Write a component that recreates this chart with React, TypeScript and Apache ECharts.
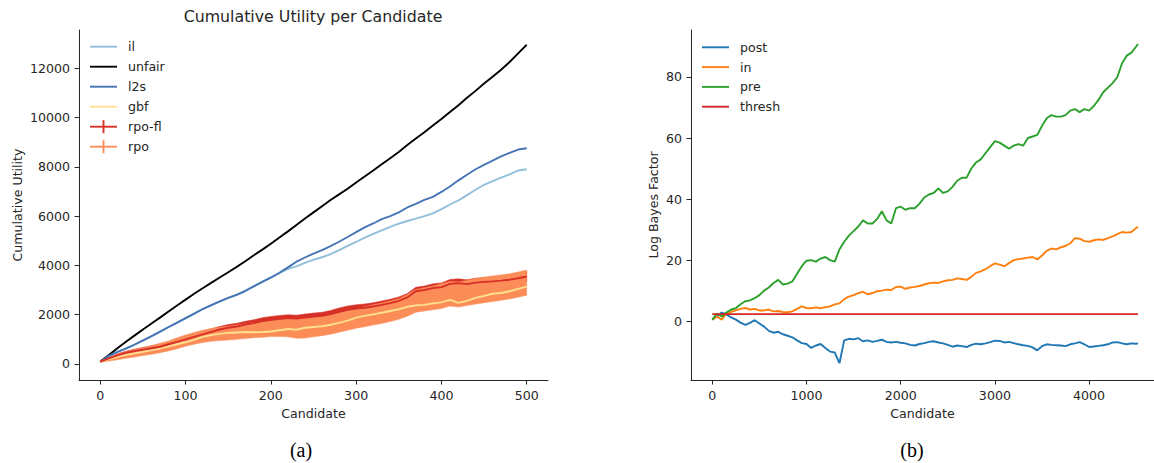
import React, { useEffect, useRef } from "react";
import * as echarts from "echarts";

// ---------- Left panel (a) data ----------
const leftX = [0, 10, 20, 30, 40, 50, 60, 70, 80, 90, 100, 110, 120, 130, 140, 150, 160, 170, 180, 190, 200, 210, 220, 230, 240, 250, 260, 270, 280, 290, 300, 310, 320, 330, 340, 350, 360, 370, 380, 390, 400, 410, 420, 430, 440, 450, 460, 470, 480, 490, 500];
const ilVals = [100, 320, 480, 630, 790, 950, 1120, 1300, 1490, 1670, 1850, 2030, 2220, 2380, 2530, 2680, 2810, 2980, 3160, 3340, 3520, 3680, 3860, 3960, 4100, 4230, 4330, 4460, 4620, 4790, 4950, 5130, 5280, 5420, 5560, 5690, 5800, 5900, 6000, 6110, 6280, 6470, 6640, 6850, 7070, 7270, 7420, 7560, 7690, 7850, 7900];
const unfairVals = [100, 360, 640, 900, 1150, 1400, 1640, 1880, 2130, 2370, 2610, 2850, 3070, 3290, 3510, 3720, 3940, 4170, 4410, 4640, 4880, 5130, 5380, 5640, 5900, 6150, 6400, 6650, 6880, 7110, 7360, 7610, 7850, 8100, 8350, 8600, 8880, 9150, 9400, 9680, 9940, 10220, 10500, 10800, 11080, 11380, 11650, 11940, 12250, 12600, 12950];
const l2sVals = [100, 330, 490, 620, 780, 960, 1130, 1310, 1500, 1680, 1860, 2040, 2230, 2390, 2540, 2680, 2800, 2960, 3150, 3330, 3500, 3700, 3920, 4150, 4320, 4480, 4620, 4780, 4960, 5150, 5350, 5540, 5700, 5880, 6000, 6150, 6350, 6500, 6660, 6780, 6980, 7200, 7450, 7680, 7900, 8080, 8250, 8420, 8560, 8700, 8750];
const gbfVals = [100, 200, 290, 370, 430, 490, 560, 630, 720, 800, 880, 980, 1100, 1170, 1220, 1260, 1280, 1300, 1290, 1300, 1320, 1370, 1420, 1390, 1470, 1500, 1530, 1590, 1670, 1760, 1880, 1950, 2010, 2080, 2150, 2220, 2320, 2380, 2400, 2460, 2500, 2600, 2480, 2560, 2680, 2760, 2850, 2880, 2950, 3050, 3140];
const rpoFlVals = [100, 230, 350, 450, 520, 580, 640, 700, 800, 900, 1000, 1100, 1200, 1300, 1400, 1470, 1520, 1600, 1660, 1740, 1790, 1830, 1860, 1840, 1880, 1920, 1950, 2020, 2120, 2200, 2250, 2280, 2330, 2400, 2470, 2560, 2700, 2950, 3000, 3080, 3120, 3250, 3280, 3240, 3300, 3330, 3350, 3380, 3420, 3480, 3550];
const rpoFlErr = [30, 50, 60, 70, 80, 90, 95, 100, 105, 110, 115, 120, 120, 125, 125, 130, 130, 130, 135, 135, 140, 140, 140, 140, 145, 145, 145, 150, 150, 150, 150, 155, 155, 155, 160, 160, 160, 165, 165, 170, 170, 175, 175, 175, 180, 180, 185, 185, 190, 195, 200];
const rpoVals = [100, 200, 280, 360, 430, 500, 570, 650, 730, 840, 950, 1040, 1120, 1180, 1220, 1250, 1290, 1330, 1370, 1400, 1430, 1450, 1470, 1440, 1470, 1500, 1540, 1600, 1680, 1770, 1850, 1920, 1990, 2060, 2140, 2230, 2380, 2560, 2620, 2680, 2750, 2850, 2820, 2880, 2950, 3000, 3050, 3100, 3150, 3220, 3300];
const rpoErr = [30, 80, 110, 130, 150, 160, 180, 190, 200, 220, 230, 240, 250, 260, 270, 280, 290, 300, 310, 315, 320, 340, 370, 400, 420, 400, 390, 390, 395, 400, 400, 405, 410, 415, 420, 420, 440, 460, 470, 480, 500, 500, 510, 510, 520, 520, 520, 515, 510, 510, 510];
const leftXTicks = [0, 100, 200, 300, 400, 500];
const leftYTicks = [0, 2000, 4000, 6000, 8000, 10000, 12000];

// ---------- Right panel (b) data ----------
const rightX = [0, 50, 100, 150, 200, 250, 300, 350, 400, 450, 500, 550, 600, 650, 700, 750, 800, 850, 900, 950, 1000, 1050, 1100, 1150, 1200, 1250, 1300, 1350, 1400, 1450, 1500, 1550, 1600, 1650, 1700, 1750, 1800, 1850, 1900, 1950, 2000, 2050, 2100, 2150, 2200, 2250, 2300, 2350, 2400, 2450, 2500, 2550, 2600, 2650, 2700, 2750, 2800, 2850, 2900, 2950, 3000, 3050, 3100, 3150, 3200, 3250, 3300, 3350, 3400, 3450, 3500, 3550, 3600, 3650, 3700, 3750, 3800, 3850, 3900, 3950, 4000, 4050, 4100, 4150, 4200, 4250, 4300, 4350, 4400, 4450, 4500, 4520];
const postVals = [0.5, 1.5, 2.8, 2.2, 1.2, 0.5, -0.5, -1.2, -0.6, 0.3, -0.8, -1.8, -3.2, -3.8, -3.5, -4.3, -4.8, -5.3, -6.3, -7.2, -7.5, -8.8, -8, -7.5, -8.8, -10, -10.3, -13.8, -6.3, -5.8, -6, -5.6, -6.6, -6.3, -6.8, -6.5, -6.1, -6.8, -7, -6.8, -7.1, -7.3, -7.8, -8, -7.5, -7.2, -6.8, -6.6, -7, -7.3, -7.8, -8.4, -8, -8.2, -8.5, -7.8, -7.4, -7.6, -7.3, -6.9, -6.4, -6.5, -7, -6.8, -7.2, -7.6, -7.9, -8.1, -8.6, -9.6, -8.2, -7.6, -7.8, -7.9, -8, -8.2, -7.6, -7.3, -6.9, -7.6, -8.5, -8.3, -8.1, -7.9, -7.6, -7, -6.9, -7.3, -7.6, -7.3, -7.4, -7.3];
const inVals = [0.5, 1.5, 0.5, 2.5, 3, 3.5, 4, 4.3, 3.8, 4, 3.5, 3.5, 3.8, 3.2, 3.3, 3, 2.9, 3.2, 4, 4.8, 4.3, 4.2, 4.5, 4.2, 4.6, 4.8, 5.5, 5.8, 7.2, 8, 8.5, 9.2, 9.6, 8.8, 9.2, 9.8, 10, 10.3, 10.2, 11.2, 11.3, 10.6, 11, 11.2, 11.5, 12, 12.4, 12.6, 12.5, 13, 13.4, 13.5, 14, 13.8, 13.5, 14.5, 15.8, 16.3, 17, 18, 18.9, 18.5, 18, 19, 20, 20.3, 20.5, 20.8, 21, 20.2, 21.5, 23, 23.8, 23.5, 24.2, 24.6, 25.5, 27.2, 27, 26.2, 26, 26.5, 26.8, 26.6, 27.2, 27.8, 28.5, 29.2, 29, 29.2, 30.5, 30.9];
const preVals = [0.5, 2.5, 1.5, 2.8, 3.8, 4.2, 5.5, 6.5, 6.8, 7.5, 8.5, 10, 11, 12.5, 13.5, 12, 12.3, 13, 15.5, 18, 19.8, 20, 19.5, 20.5, 21, 20, 19.5, 23.5, 26, 28, 29.5, 31, 33, 32, 32, 33.5, 36, 33, 32, 37, 37.5, 36.5, 37, 37, 38.5, 40.5, 41.5, 42, 43.5, 42, 42.5, 44, 46, 47, 47, 50, 52, 53, 55, 57, 59, 58.5, 57.5, 56.5, 57.5, 58, 57.5, 60, 60.5, 61, 64, 66.5, 67.5, 67, 67, 67.5, 69, 69.5, 68.5, 69.5, 69, 70.5, 72.5, 75, 76.5, 78, 80, 84.5, 87, 88, 90, 90.8];
const threshX = [0, 4520];
const threshVals = [2.3, 2.3];
const rightXTicks = [0, 1000, 2000, 3000, 4000];
const rightYTicks = [0, 20, 40, 60, 80];

const leftNames = ["il", "unfair", "l2s", "gbf", "rpo-fl", "rpo"];
const leftColors = ["#91bfdb", "#000000", "#4575b4", "#fee090", "#d73027", "#fc8d59"];
const rightNames = ["post", "in", "pre", "thresh"];
const rightColors = ["#1f77b4", "#ff7f0e", "#2ca02c", "#d62728"];

const TXT = "#262626";
const FONT = "DejaVu Sans";

function pairs(xs: number[], ys: number[]) {
  return xs.map((x, i) => [x, ys[i]]);
}

function lineSeries(name: string, xs: number[], ys: number[], color: string, axis: number, z: number) {
  return {
    type: "line",
    name,
    xAxisIndex: axis,
    yAxisIndex: axis,
    data: pairs(xs, ys),
    showSymbol: false,
    symbol: "none",
    lineStyle: { color, width: 1.9 },
    itemStyle: { color },
    z,
    silent: true,
  };
}

function bandSeries(name: string, xs: number[], c: number[], e: number[], color: string, z: number) {
  const data = xs.map((x, i) => [x, c[i] - e[i], c[i] + e[i]]);
  return {
    type: "custom",
    name,
    xAxisIndex: 0,
    yAxisIndex: 0,
    data,
    encode: { x: 0, y: [1, 2] },
    z,
    silent: true,
    renderItem: (params: any, api: any) => {
      if (params.dataIndex !== 0) return null;
      const upper = data.map((d) => api.coord([d[0], d[2]]));
      const lower = data.map((d) => api.coord([d[0], d[1]])).reverse();
      return {
        type: "polygon",
        shape: { points: upper.concat(lower) },
        style: { fill: color, stroke: color, lineWidth: 0.5 },
      };
    },
  };
}

function axisBase(ticks: number[], min: number, max: number, grid: number) {
  return {
    type: "value",
    gridIndex: grid,
    min,
    max,
    axisLine: { show: true, onZero: false, lineStyle: { color: TXT, width: 1 } },
    axisTick: { show: true, length: 4.5, customValues: ticks, lineStyle: { color: TXT, width: 1 } },
    axisLabel: {
      show: true,
      customValues: ticks,
      formatter: (v: number) => String(v),
      color: TXT,
      fontSize: 12.6,
      fontFamily: FONT,
      margin: 9,
    },
    splitLine: { show: false },
    nameTextStyle: { color: TXT, fontSize: 12.6, fontFamily: FONT },
  };
}

function legendGraphics(names: string[], colors: string[], x0: number, y0: number, step: number, crosses: boolean[]) {
  const els: any[] = [];
  names.forEach((n, i) => {
    const y = y0 + i * step;
    els.push({
      type: "line",
      shape: { x1: x0, y1: y, x2: x0 + 27, y2: y },
      style: { stroke: colors[i], lineWidth: 1.9 },
      z: 10,
    });
    if (crosses[i]) {
      els.push({
        type: "line",
        shape: { x1: x0 + 13.5, y1: y - 6.5, x2: x0 + 13.5, y2: y + 6.5 },
        style: { stroke: colors[i], lineWidth: 1.9 },
        z: 10,
      });
    }
    els.push({
      type: "text",
      x: x0 + 38,
      y,
      style: { text: n, fill: TXT, fontSize: 12.6, fontFamily: FONT, verticalAlign: "middle", align: "left" },
      z: 10,
    });
  });
  return els;
}

export default function App() {
  const ref = useRef<HTMLDivElement>(null);
  useEffect(() => {
    if (!ref.current) return;
    const chart = echarts.init(ref.current, null, { renderer: "svg" });
    const xa0: any = axisBase(leftXTicks, -25, 525, 0);
    xa0.name = "Candidate";
    xa0.nameLocation = "middle";
    xa0.nameGap = 25;
    const ya0: any = axisBase(leftYTicks, -650, 13550, 0);
    ya0.name = "Cumulative Utility";
    ya0.nameLocation = "middle";
    ya0.nameGap = 55;
    const xa1: any = axisBase(rightXTicks, -226, 4689, 1);
    xa1.name = "Candidate";
    xa1.nameLocation = "middle";
    xa1.nameGap = 25;
    const ya1: any = axisBase(rightYTicks, -19.3, 95.4, 1);
    ya1.name = "Log Bayes Factor";
    ya1.nameLocation = "middle";
    ya1.nameGap = 31;

    const option: any = {
      animation: false,
      backgroundColor: "#ffffff",
      title: {
        text: "Cumulative Utility per Candidate",
        left: 313,
        top: 8,
        padding: 0,
        textAlign: "center",
        textStyle: { color: TXT, fontSize: 15.8, fontWeight: "normal", fontFamily: FONT },
      },
      grid: [
        { left: 79, right: 606, top: 30, bottom: 83, outerBoundsMode: "none", containLabel: false },
        { left: 691, right: 0, top: 30, bottom: 83, outerBoundsMode: "none", containLabel: false },
      ],
      xAxis: [xa0, xa1],
      yAxis: [ya0, ya1],
      series: [
        bandSeries("rpo-fl band", leftX, rpoFlVals, rpoFlErr, leftColors[4], 1),
        bandSeries("rpo band", leftX, rpoVals, rpoErr, leftColors[5], 2),
        lineSeries(leftNames[0], leftX, ilVals, leftColors[0], 0, 3),
        lineSeries(leftNames[1], leftX, unfairVals, leftColors[1], 0, 3),
        lineSeries(leftNames[2], leftX, l2sVals, leftColors[2], 0, 3),
        lineSeries(leftNames[3], leftX, gbfVals, leftColors[3], 0, 3),
        lineSeries(leftNames[4], leftX, rpoFlVals, leftColors[4], 0, 4),
        lineSeries(rightNames[0], rightX, postVals, rightColors[0], 1, 3),
        lineSeries(rightNames[1], rightX, inVals, rightColors[1], 1, 3),
        lineSeries(rightNames[2], rightX, preVals, rightColors[2], 1, 3),
        lineSeries(rightNames[3], threshX, threshVals, rightColors[3], 1, 4),
      ],
      graphic: [
        ...legendGraphics(leftNames, leftColors, 90, 46.7, 20, [false, false, false, false, true, true]),
        ...legendGraphics(rightNames, rightColors, 702, 47.3, 19.8, [false, false, false, false]),
        {
          type: "text",
          x: 301,
          y: 450,
          style: { text: "(a)", fill: "#000", fontSize: 20, fontFamily: "Liberation Serif", align: "center", verticalAlign: "middle" },
        },
        {
          type: "text",
          x: 912,
          y: 450,
          style: { text: "(b)", fill: "#000", fontSize: 20, fontFamily: "Liberation Serif", align: "center", verticalAlign: "middle" },
        },
      ],
    };
    chart.setOption(option);
    return () => chart.dispose();
  }, []);
  return <div ref={ref} style={{ position: "absolute", left: 0, top: 0, width: 1154, height: 463 }} />;
}
